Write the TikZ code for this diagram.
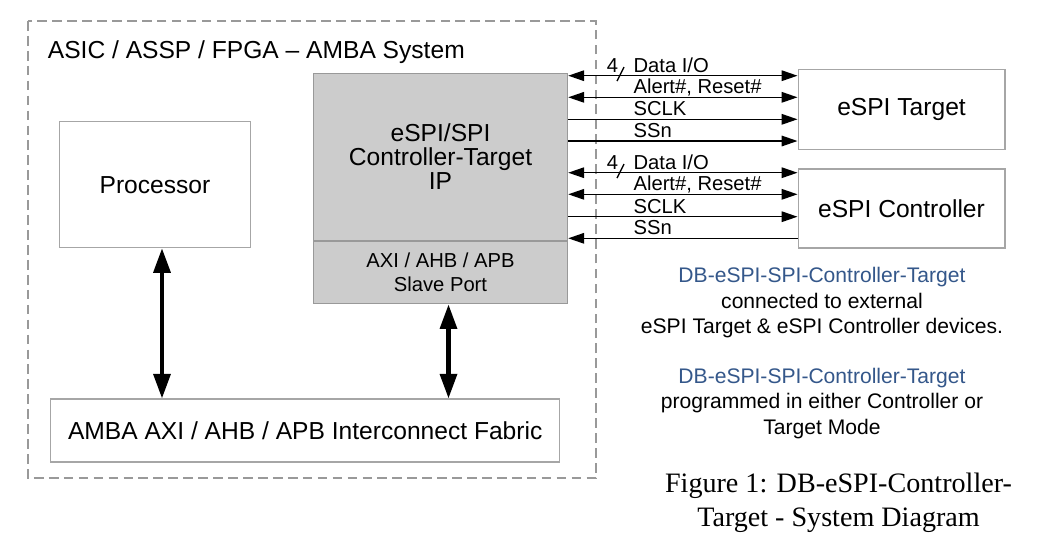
\documentclass[tikz,border=0pt]{standalone}
\usepackage{fontspec}
\setmainfont{Liberation Sans}
\newfontfamily\capfont{Liberation Serif}
\usetikzlibrary{arrows.meta,positioning}
\definecolor{boxline}{HTML}{A6A6A6}
\definecolor{ipfill}{HTML}{CCCCCC}
\definecolor{ipline}{HTML}{999999}
\definecolor{noteblue}{HTML}{34578A}
\tikzset{
  blk/.style={draw=boxline, fill=white, line width=0.6pt, inner sep=0pt, align=center, font=\fontsize{14}{13.7}\selectfont},
  ipblk/.style={blk, draw=ipline, fill=ipfill},
  sig/.style={-{Triangle[length=9pt,width=6pt]}, line width=0.75pt},
  bsig/.style={{Triangle[length=9pt,width=6pt]}-{Triangle[length=9pt,width=6pt]}, line width=0.75pt},
  bus/.style={{Triangle[length=14pt,width=9.5pt]}-{Triangle[length=14pt,width=9.5pt]}, line width=2.4pt},
  lab/.style={anchor=base west, inner sep=0pt, yshift=2pt, font=\fontsize{11.5}{13}\selectfont},
  note/.style={align=center, inner sep=0pt, font=\fontsize{12}{14.5}\selectfont}
}
\begin{document}
\begin{tikzpicture}[x=0.02cm,y=-0.02cm]
\useasboundingbox (0,0) rectangle (1054,549);
\draw[ipline, line width=0.6pt, dash pattern=on 5.5pt off 3pt] (28,21) rectangle (596,478);
\node[anchor=base west, inner sep=0pt, font=\fontsize{14}{16}\selectfont] (sys) at (47.5,58.5) {ASIC / ASSP / FPGA – AMBA System};

\node[blk, minimum width=3.82cm, minimum height=2.52cm] (proc) at (155,184.7) {Processor};
\node[ipblk, minimum width=5.09cm, minimum height=3.34cm] (ip) at (440.5,156.8) {eSPI/SPI\\Controller-Target\\IP};
\node[ipblk, minimum width=5.09cm, minimum height=1.25cm, anchor=north, font=\fontsize{11.5}{13.5}\selectfont] (port) at (ip.south) {AXI / AHB / APB\\Slave Port};
\node[blk, minimum width=10.19cm, minimum height=1.26cm] (fab) at (305.2,430.5) {AMBA AXI / AHB / APB Interconnect Fabric};
\node[blk, minimum width=4.14cm, minimum height=1.59cm] (tgt) at (901.5,109.3) {eSPI Target};
\node[blk, minimum width=4.14cm, minimum height=1.58cm] (ctl) at (901.5,208.5) {eSPI Controller};

\coordinate (pa) at (162,0);
\coordinate (ia) at (448.5,0);
\draw[bus] (proc.south -| pa) -- (fab.north -| pa);
\draw[bus] (port.south -| ia) -- (fab.north -| ia);

\foreach \ya/\yb/\yc/\dev in {75.7/97.3/119.3/tgt, 172.7/194.3/216.7/ctl} {
  \draw[bsig] (ip.east |- 0,\ya) -- (\dev.west |- 0,\ya) node[lab, pos=0.282] (dat\dev) {Data I/O};
  \draw[line width=0.75pt] (617,\ya) ++(0,5.3) -- ++(7,-14);
  \node[lab, anchor=base east] (wid\dev) at (618.5,\ya) {4};
  \draw[bsig] (ip.east |- 0,\yb) -- (\dev.west |- 0,\yb) node[lab, pos=0.282] (alr\dev) {Alert\#, Reset\#};
  \draw[sig] (ip.east |- 0,\yc) -- (\dev.west |- 0,\yc) node[lab, pos=0.282] (clk\dev) {SCLK};
}
\draw[sig] (ip.east |- 0,141) -- (tgt.west |- 0,141) node[lab, pos=0.282] (ssntgt) {SSn};
\draw[sig] (ctl.west |- 0,238.3) -- (ip.east |- 0,238.3) node[lab, pos=0.718] (ssnctl) {SSn};

\node[note] (note1) at (822,303) {\textcolor{noteblue}{DB-eSPI-SPI-Controller-Target}\\connected to external\\eSPI Target \& eSPI Controller devices.};
\node[note] (note2) at (822,403.5) {\textcolor{noteblue}{DB-eSPI-SPI-Controller-Target}\\programmed in either Controller or\\Target Mode};
\node[align=center, inner sep=0pt, font=\capfont\fontsize{16}{19.3}\selectfont] (cap) at (838.5,502.5) {Figure 1: DB-eSPI-Controller-\\Target - System Diagram};
\end{tikzpicture}
\end{document}
